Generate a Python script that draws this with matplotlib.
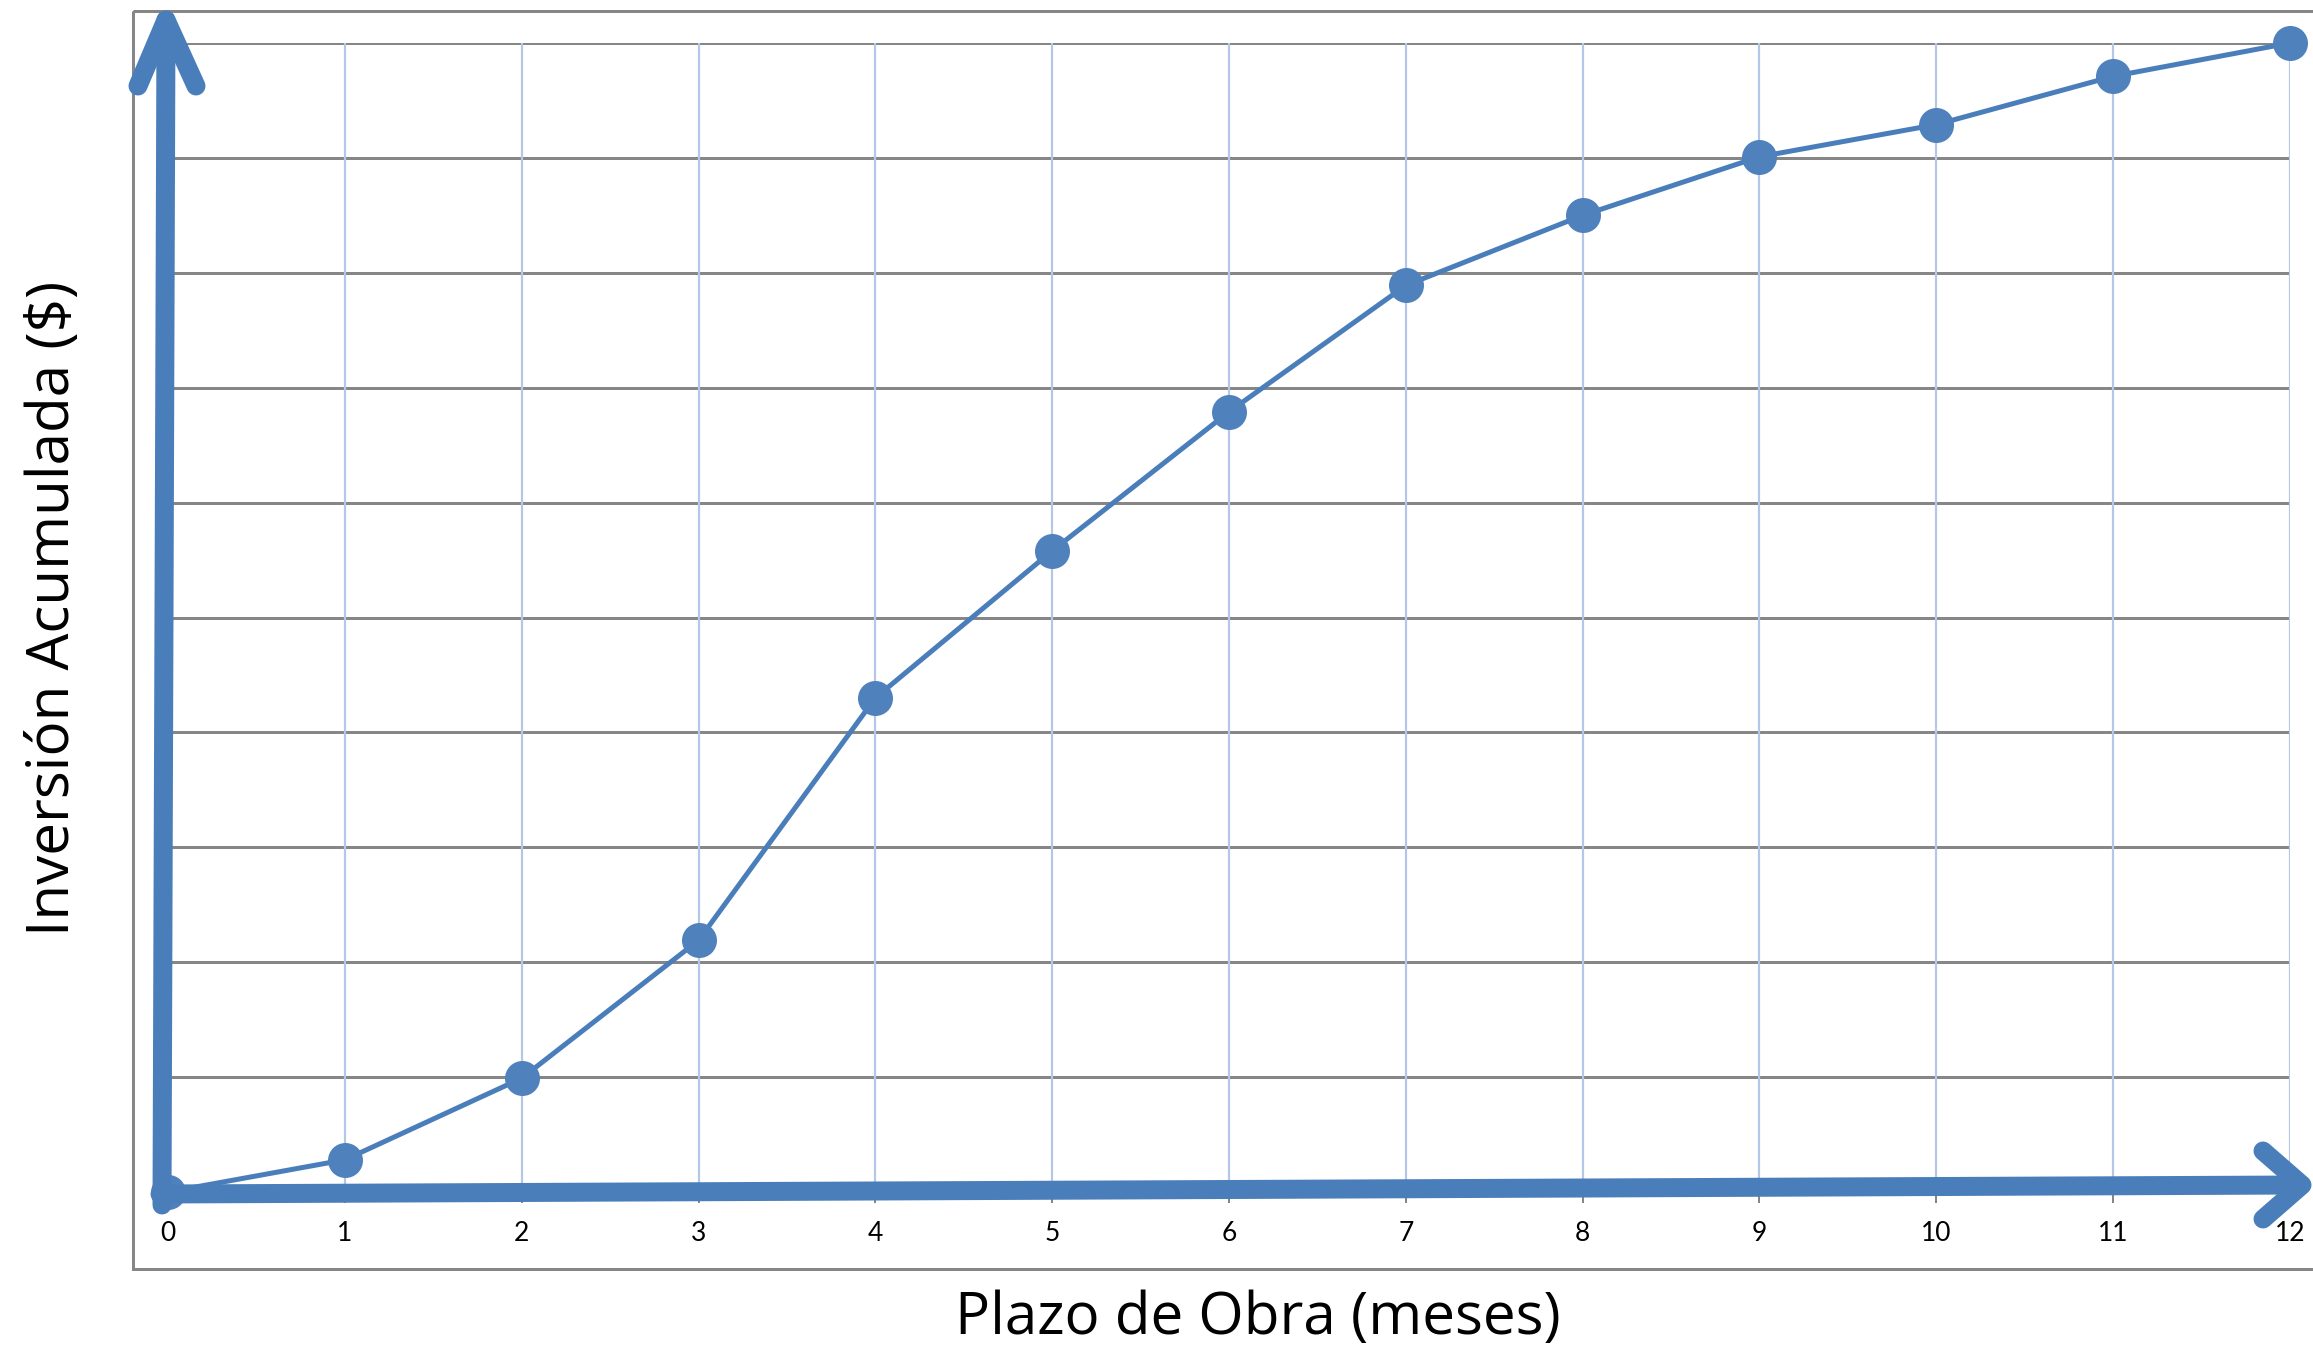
import matplotlib
matplotlib.use("Agg")
import matplotlib.pyplot as plt
from matplotlib.patches import Rectangle

# data (y in grid units, 10 = top gridline)
MESES = [0, 1, 2, 3, 4, 5, 6, 7, 8, 9, 10, 11, 12]
INVERSION = [0.0, 0.28, 0.99, 2.19, 4.30, 5.58, 6.79, 7.89, 8.50, 9.01, 9.29, 9.71, 10.0]
XLABELS = [str(m) for m in MESES]
YGRID = [1, 2, 3, 4, 5, 6, 7, 8, 9, 10]

BLUE = "#4a7ebb"
MARK = "#4f81bd"
GRID_H = "#868686"
GRID_V = "#b4c7e7"
W, H = 2313, 1353
PX = 72 / 100  # pixel -> points at dpi 100

plt.rcParams["font.family"] = ["Lato", "DejaVu Sans"]

fig = plt.figure(figsize=(W / 100, H / 100), dpi=100)

# plot area: x 0..12 -> px 168..2290, y 0..10 -> px 1192..43 (from top)
x0, x1, y0, y1 = 168, 2290, 1192, 43
ax = fig.add_axes([x0 / W, (H - y0) / H, (x1 - x0) / W, (y0 - y1) / H], zorder=1)
ax.set_xlim(0, 12)
ax.set_ylim(0, 10)
for s in ax.spines.values():
    s.set_visible(False)
ax.patch.set_alpha(0)

ax.hlines(YGRID, 0, 12, color=GRID_H, lw=3 * PX, zorder=1)
ax.vlines(MESES[1:], 0, 10, color=GRID_V, lw=2.2 * PX, zorder=1)
ax.vlines(MESES, -0.1, 0, color=GRID_H, lw=2 * PX, zorder=1, clip_on=False)

ax.plot(MESES, INVERSION, color=BLUE, lw=5 * PX, zorder=3, clip_on=False,
        marker="o", ms=35 * PX, mfc=MARK, mec=MARK, mew=0)

ax.set_yticks([])
ax.set_xticks(MESES)
ax.set_xticklabels(XLABELS, fontsize=19, color="black")
ax.tick_params(axis="x", length=0, pad=21)

# overlay in pixel coordinates for frame, arrows and titles
ov = fig.add_axes([0, 0, 1, 1], zorder=3)
ov.set_xlim(0, W)
ov.set_ylim(H, 0)
ov.axis("off")
ov.patch.set_alpha(0)

ov.add_patch(Rectangle((133, 11), 2300, 1258, fill=False, ec=GRID_H, lw=3 * PX))

aw = 19 * PX
kw = dict(color=BLUE, lw=aw, solid_capstyle="round", solid_joinstyle="round")
# vertical arrow
ov.plot([162, 166], [1205, 20], **kw)
ov.plot([138, 166, 196], [86, 20, 86], **kw)
# horizontal arrow
ov.plot([160, 2300], [1194, 1185], **kw)
ov.plot([2263, 2302, 2263], [1151, 1185, 1219], **kw)

tfont = ["Open Sans", "DejaVu Sans"]
ov.text(1258, 1334, "Plazo de Obra (meses)", fontsize=42, ha="center",
        va="baseline", color="black", family=tfont)
ov.text(54, 608, "Inversión Acumulada ($)", fontsize=42, rotation=90,
        ha="center", va="center", color="black", family=tfont)

fig.savefig("out.png", dpi=100)
